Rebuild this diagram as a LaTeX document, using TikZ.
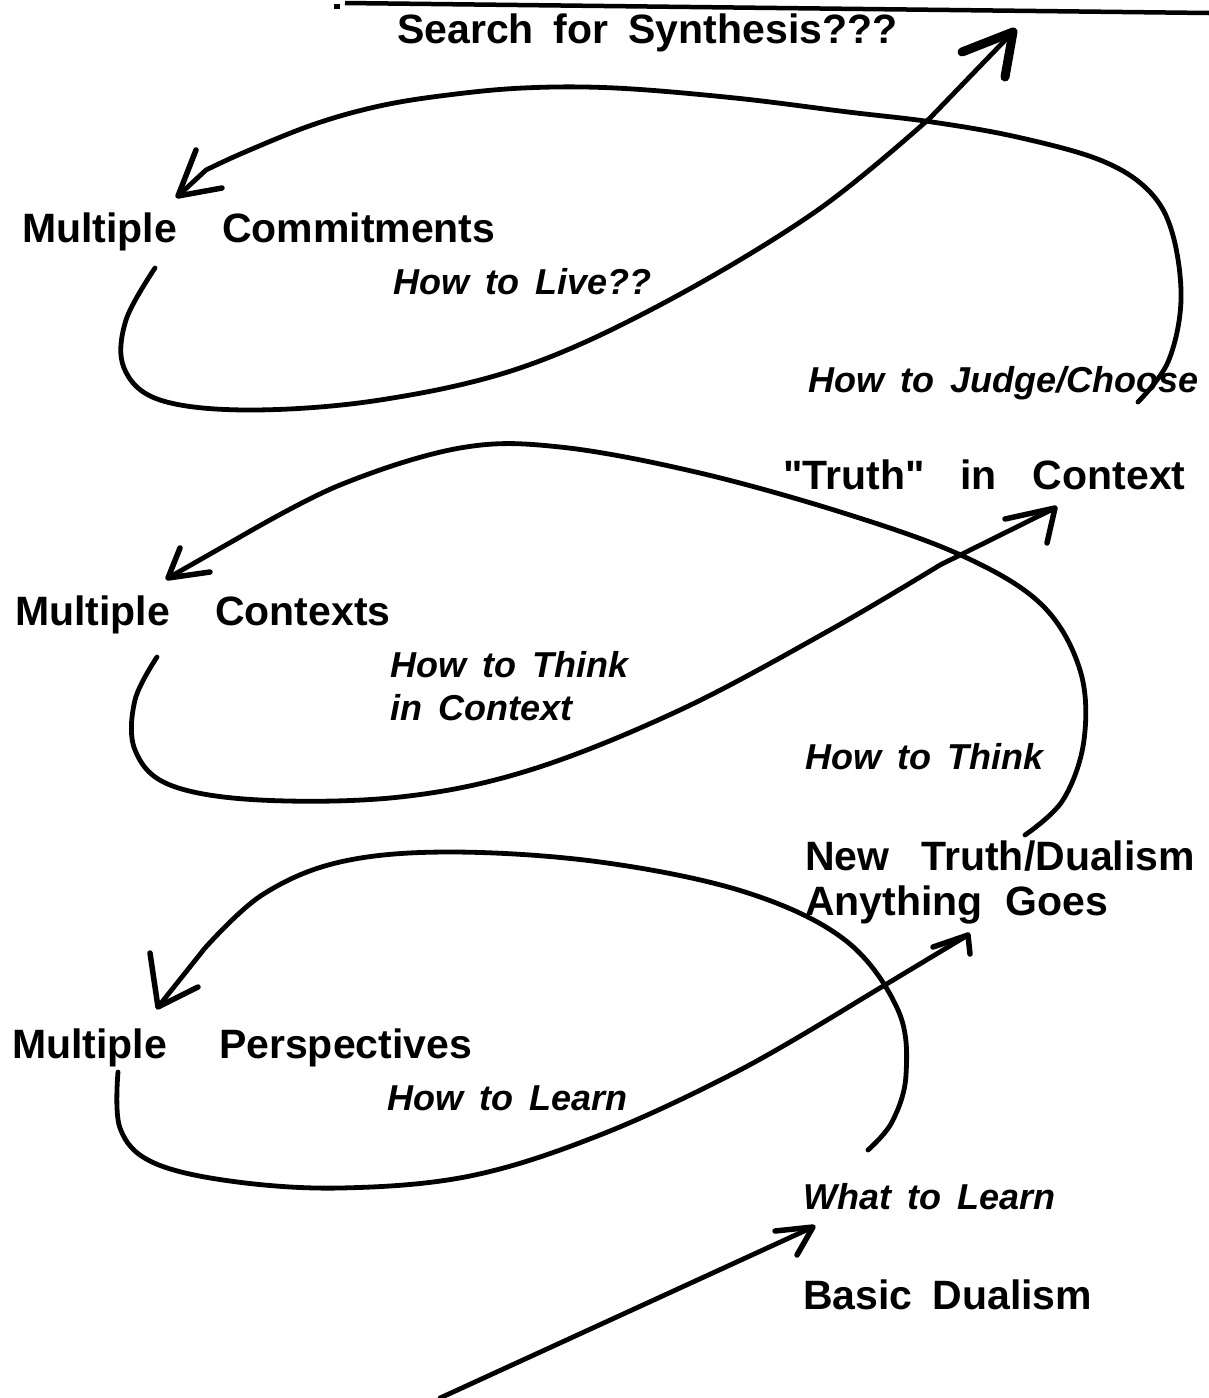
\documentclass[tikz,border=0pt]{standalone}
\usepackage{fontspec}
% plain family, so that straight quotes stay straight
\newfontfamily\lbl{Liberation Sans}
\begin{document}
\begin{tikzpicture}[x=1pt,y=-1pt,
  stroke/.style={line width=4.8pt,line cap=round,line join=round},
  barb/.style={line width=5.5pt,line cap=round,line join=round},
  head/.style={anchor=west,inner sep=0pt,font=\lbl\fontsize{41}{48}\selectfont\bfseries},
  note/.style={anchor=west,inner sep=0pt,font=\lbl\fontsize{36}{42}\selectfont\bfseries\itshape}]
\useasboundingbox (0,0) rectangle (1209,1398);
\newcommand{\gap}[1]{\hspace*{#1pt}}

% rule across the top
\coordinate (ruleL) at (345,3);
\coordinate (ruleR) at (1209,13);
\draw[line width=4.5pt] (ruleL) -- (ruleR);
\fill (334,4) rectangle (340,9);

% labels
\node[head] (synth) at (397,33) {Search\gap{20}for\gap{20}Synthesis???};
\node[head] (mcom) at (22,232) {Multiple\gap{45}Commitments};
\node[note] (live) at (393,282) {How\gap{16}to\gap{16}Live??};
\node[note] (judge) at (808,383) {How\gap{16}to\gap{16}Judge/Choose};
\node[head] (truth) at (783,475) {"Truth"\gap{36}in\gap{36}Context};
\node[head] (mcon) at (15,615) {Multiple\gap{45}Contexts};
\node[note] (thinkc) at (390,665) {How\gap{16}to\gap{16}Think};
\node[note] (thinkc2) at (390,708) {in\gap{16}Context};
\node[note] (think) at (805,757) {How\gap{16}to\gap{16}Think};
\node[head] (newtruth) at (805,856) {New\gap{32}Truth/Dualism};
\node[head] (anything) at (805,905) {Anything\gap{23}Goes};
\node[head] (mper) at (12,1048) {Multiple\gap{52}Perspectives};
\node[note] (learn) at (387,1098) {How\gap{16}to\gap{16}Learn};
\node[note] (what) at (803,1197) {What\gap{16}to\gap{16}Learn};
\node[head] (basic) at (803,1295) {Basic\gap{20}Dualism};

% arrow tips
\coordinate (tipSynth) at (1013,32);
\coordinate (tipCom) at (178,196);
\coordinate (tipTruth) at (1055,508);
\coordinate (tipCon) at (168,578);
\coordinate (tipAny) at (968,935);
\coordinate (tipPer) at (158,1007);
\coordinate (tipBasic) at (813,1227);

% upper loop
\draw[stroke] plot[smooth,tension=0.6] coordinates {(1138,402) (1168,362) (1181,300) (1172,232) (1148,190) (1100,160) (1017,137) (932,122) (848,112) (735,98) (615,88) (523,88) (440,96) (375,107) (312,125) (245,152) (206,170)} -- (tipCom);
\draw[stroke] plot[smooth,tension=0.6] coordinates {(155,268) (126,320) (124,368) (160,400) (250,410) (380,400) (520,368) (660,305) (815,212) (930,118)} -- (tipSynth);

% middle loop
\draw[stroke] plot[smooth,tension=0.6] coordinates {(1025,835) (1063,800) (1084,740) (1080,670) (1042,605) (965,557) (850,515) (700,473) (560,447) (460,448) (340,485) (240,537)} -- (tipCon);
\draw[stroke] plot[smooth,tension=0.6] coordinates {(157,657) (135,700) (135,750) (170,785) (260,800) (400,797) (530,770) (680,710) (830,630) (940,565)} -- (tipTruth);

% lower loop
\draw[stroke] plot[smooth,tension=0.6] coordinates {(868,1150) (892,1122) (906,1075) (898,1010) (845,940) (745,892) (600,862) (450,852) (340,862) (262,895) (205,948)} -- (tipPer);
\draw[stroke] plot[smooth,tension=0.6] coordinates {(118,1072) (120,1128) (152,1162) (230,1181) (340,1188) (470,1176) (600,1135) (740,1070) (860,1000)} -- (tipAny);

% entry arrow
\coordinate (startBasic) at (440,1398);
\draw[stroke] (startBasic) -- (tipBasic);

% hand-drawn barbs
\draw[barb,line width=9pt] (962,52) -- (tipSynth) -- (1005,77);
\draw[barb] (196,150) -- (tipCom) -- (222,188);
\draw[barb] (1005,519) -- (tipTruth) -- (1047,543);
\draw[barb] (180,548) -- (tipCon) -- (210,572);
\draw[barb] (933,947) -- (tipAny) -- (970,954);
\draw[barb] (150,953) -- (tipPer) -- (198,987);
\draw[barb] (775,1231) -- (tipBasic) -- (797,1255);
\end{tikzpicture}
\end{document}
